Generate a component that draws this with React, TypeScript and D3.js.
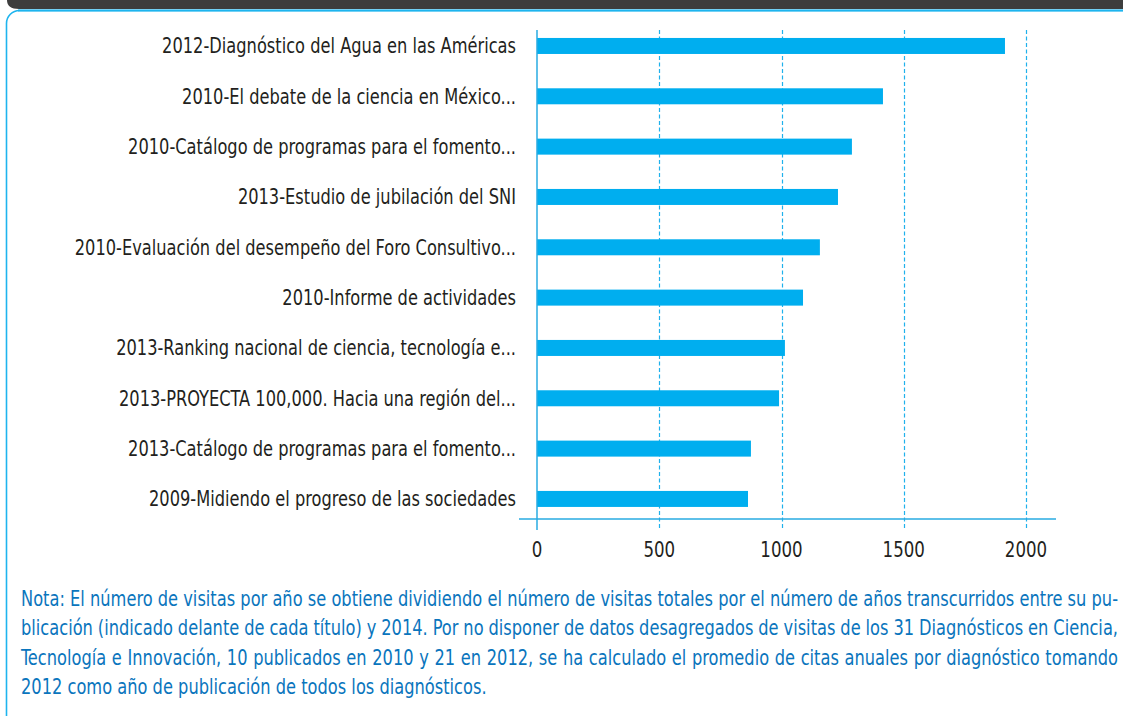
import React, { useLayoutEffect, useRef } from "react";
import * as d3 from "d3";

const categories = [
  "2012-Diagnóstico del Agua en las Américas",
  "2010-El debate de la ciencia en México...",
  "2010-Catálogo de programas para el fomento...",
  "2013-Estudio de jubilación del SNI",
  "2010-Evaluación del desempeño del Foro Consultivo...",
  "2010-Informe de actividades",
  "2013-Ranking nacional de ciencia, tecnología e...",
  "2013-PROYECTA 100,000. Hacia una región del...",
  "2013-Catálogo de programas para el fomento...",
  "2009-Midiendo el progreso de las sociedades",
];
const visitsPerYear = [1914, 1415, 1288, 1231, 1157, 1088, 1014, 990, 875, 863];
const xTicks = [0, 500, 1000, 1500, 2000];
const noteLines = [
  "Nota: El número de visitas por año se obtiene dividiendo el número de visitas totales por el número de años transcurridos entre su pu-",
  "blicación (indicado delante de cada título) y 2014. Por no disponer de datos desagregados de visitas de los 31 Diagnósticos en Ciencia,",
  "Tecnología e Innovación, 10 publicados en 2010 y 21 en 2012, se ha calculado el promedio de citas anuales por diagnóstico tomando",
  "2012 como año de publicación de todos los diagnósticos.",
];

const W = 1123;
const H = 716;
const FONT = "'DejaVu Sans Condensed', 'Liberation Sans Narrow', 'Roboto', sans-serif";
const SX = 0.86;

export default function App() {
  const noteRef = useRef<SVGGElement>(null);

  const x = d3.scaleLinear().domain([0, 2000]).range([537, 1026]);
  const y = d3
    .scaleBand<string>()
    .domain(categories)
    .range([20.8, 524.1])
    .paddingInner(0.682)
    .paddingOuter(0.341);

  useLayoutEffect(() => {
    const g = noteRef.current;
    if (!g) return;
    const texts = Array.from(g.querySelectorAll("text")) as SVGTextElement[];
    texts.forEach((t, i) => {
      if (i >= 3) return;
      t.style.wordSpacing = "0px";
      const len = t.getComputedTextLength();
      const spaces = (noteLines[i].match(/ /g) || []).length;
      const target = (1118 - 21) / SX;
      if (spaces > 0) t.style.wordSpacing = `${(target - len) / spaces}px`;
    });
  }, []);

  const gridTop = 30;
  const gridBottom = 530;

  return (
    <svg
      width={W}
      height={H}
      style={{ position: "absolute", left: 0, top: 0, background: "#fff" }}
      fontFamily={FONT}
    >
      {/* header bar */}
      <path d={`M7,0 H${W} V9 H19 Q7,9 7,0 Z`} fill="#3d3d3d" />
      {/* frame */}
      <rect
        x={6.5}
        y={10.5}
        width={W + 40}
        height={H + 20}
        rx={13}
        fill="none"
        stroke="#1eb4ee"
        strokeWidth={1.6}
      />
      <line x1={18} x2={W} y1={10.5} y2={10.5} stroke="#1eb4ee" strokeWidth={2} />

      {/* gridlines */}
      {xTicks.slice(1).map((t) => (
        <line
          key={t}
          x1={Math.round(x(t)) + 0.5}
          x2={Math.round(x(t)) + 0.5}
          y1={gridTop}
          y2={gridBottom}
          stroke="#1fb1ec"
          strokeWidth={1.2}
          strokeDasharray="4,2.5"
        />
      ))}

      {/* bars */}
      {categories.map((c, i) => (
        <rect
          key={c}
          x={x(0)}
          y={y(c)!}
          width={x(visitsPerYear[i]) - x(0)}
          height={y.bandwidth()}
          fill="#00aeef"
        />
      ))}

      {/* axes */}
      <line x1={x(0)} x2={x(0)} y1={gridTop} y2={gridBottom} stroke="#29abe2" strokeWidth={1.5} />
      <line x1={519} x2={1056} y1={519} y2={519} stroke="#29abe2" strokeWidth={1.5} />

      {/* category labels */}
      {categories.map((c) => (
        <text
          key={c}
          transform={`translate(516,${y(c)! + y.bandwidth() / 2 + 7.5}) scale(${SX},1)`}
          textAnchor="end"
          fontSize={21}
          fill="#231f20"
        >
          {c}
        </text>
      ))}

      {/* tick labels */}
      {xTicks.map((t) => (
        <text
          key={t}
          transform={`translate(${x(t)},557) scale(${SX},1)`}
          textAnchor="middle"
          fontSize={21.5}
          fill="#231f20"
        >
          {d3.format("d")(t)}
        </text>
      ))}

      {/* note */}
      <g ref={noteRef}>
        {noteLines.map((l, i) => (
          <text
            key={i}
            transform={`translate(21,${605.5 + i * 29.5}) scale(${SX},1)`}
            fontSize={21}
            fill="#0a75bd"
          >
            {l}
          </text>
        ))}
      </g>
    </svg>
  );
}
